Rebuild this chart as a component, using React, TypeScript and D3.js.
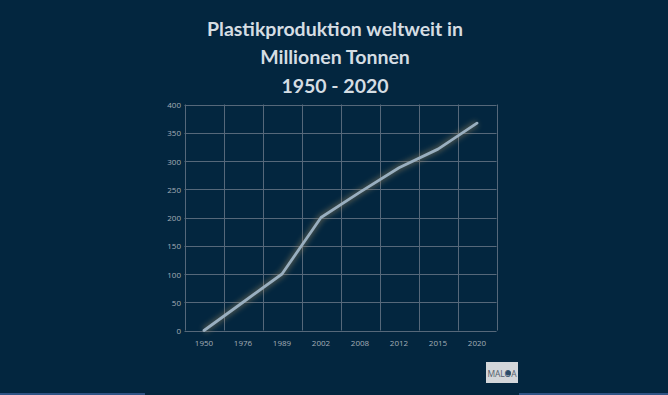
import React from "react";
import * as d3 from "d3";

const years = ["1950", "1976", "1989", "2002", "2008", "2012", "2015", "2020"];
const production = [0, 50, 100, 200, 245, 288, 321, 367];
const yTicks = [0, 50, 100, 150, 200, 250, 300, 350, 400];
const titleLines = ["Plastikproduktion weltweit in", "Millionen Tonnen", "1950 - 2020"];

const W = 668;
const H = 395;
const plot = { left: 184.5, right: 496.5, top: 104.5, bottom: 330.5 };

export default function App() {
  const x = d3.scaleBand<string>().domain(years).range([plot.left, plot.right]);
  const y = d3.scaleLinear().domain([0, 400]).range([plot.bottom, plot.top]);
  const line = d3
    .line<number>()
    .x((_, i) => (x(years[i]) as number) + x.bandwidth() / 2)
    .y((d) => y(d));
  const path = line(production) || "";
  const bounds = [...years.map((yr) => x(yr) as number), plot.right];

  return (
    <div style={{ position: "fixed", left: 0, top: 0, width: W, height: H, overflow: "hidden" }}>
      <svg width={W} height={H} style={{ display: "block", background: "#03263f" }}>
        <defs>
          <filter id="glow" x="-20%" y="-20%" width="140%" height="140%">
            <feGaussianBlur stdDeviation="2.5" />
          </filter>
        </defs>
        <rect x={0} y={0} width={W} height={H} fill="#03263f" />
        {titleLines.map((t, i) => (
          <text
            key={i}
            x={335}
            y={28 + i * 28.5}
            textAnchor="middle"
            dominantBaseline="central"
            fill="#d5dde3"
            fontFamily="Lato, 'Open Sans', sans-serif"
            fontWeight={700}
            fontSize={19.5}
          >
            {t}
          </text>
        ))}
        {yTicks.map((v) => (
          <g key={v}>
            <line x1={plot.left} x2={plot.right} y1={Math.round(y(v)) + 0.5} y2={Math.round(y(v)) + 0.5} stroke="#56687a" strokeWidth={1} />
            <text
              x={181}
              y={y(v)}
              textAnchor="end"
              dominantBaseline="central"
              fill="#a3adb7"
              fontFamily="'Open Sans', sans-serif"
              fontSize={8}
            >
              {v}
            </text>
          </g>
        ))}
        {bounds.map((bx, i) => (
          <line key={i} x1={Math.round(bx) + 0.5} x2={Math.round(bx) + 0.5} y1={plot.top} y2={plot.bottom} stroke="#56687a" strokeWidth={1} />
        ))}
        {years.map((yr) => (
          <text
            key={yr}
            x={(x(yr) as number) + x.bandwidth() / 2}
            y={342}
            textAnchor="middle"
            dominantBaseline="central"
            fill="#a3adb7"
            fontFamily="'Open Sans', sans-serif"
            fontSize={8}
          >
            {yr}
          </text>
        ))}
        <path d={path} fill="none" stroke="#a08a5e" strokeOpacity={0.4} strokeWidth={7} filter="url(#glow)" strokeLinejoin="round" />
        <path d={path} fill="none" stroke="#99afc0" strokeWidth={2.8} strokeLinejoin="round" strokeLinecap="round" />
        <rect x={486} y={362} width={32} height={21} fill="#d3d6da" />
        <text x={487.5} y={373} textAnchor="start" dominantBaseline="central" fill="#55606b" fontFamily="'Open Sans', sans-serif" fontSize={8.5} textLength={29} lengthAdjust="spacing">
          MAL<tspan fill="#2c4a66">O</tspan>A
        </text>
        <circle cx={508.3} cy={373} r={2.6} fill="#2c4a66" />
        <rect x={0} y={393} width={145} height={2} fill="#2f5384" />
        <rect x={519} y={393} width={149} height={2} fill="#2f5384" />
      </svg>
    </div>
  );
}
